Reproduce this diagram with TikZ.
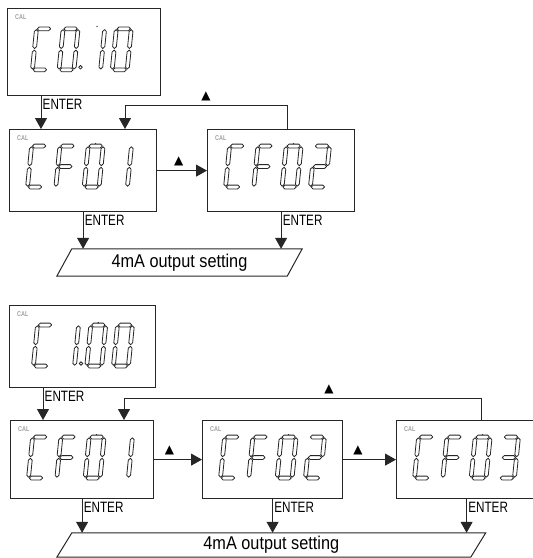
\documentclass[tikz,border=0pt]{standalone}
\usepackage{fontspec}
\usetikzlibrary{arrows.meta, positioning, calc}
\newfontfamily\condfont{Liberation Sans}[FakeStretch=0.78]
\newfontfamily\outfont{Liberation Sans}[FakeStretch=0.88]
\newfontfamily\symfont{DejaVu Sans}
\definecolor{LcdLine}{HTML}{262626}
\definecolor{LcdGray}{HTML}{A0A0A0}
\tikzset{
    % display boxes
    display/.style={
        rectangle,
        draw=LcdLine,
        fill=white,
        line width=1.2pt,
        inner sep=0pt,
        anchor=north west
    },
    seg/.style={
        draw=LcdLine,
        line width=0.8pt,
        line join=round
    },
    calmark/.style={
        font=\condfont\bfseries\fontsize{7}{7}\selectfont,
        text=LcdGray,
        inner sep=0pt,
        anchor=west
    },
    % labels
    keylabel/.style={
        font=\condfont\fontsize{15}{15}\selectfont,
        inner sep=0pt,
        anchor=north west
    },
    uplabel/.style={
        font=\symfont\fontsize{12}{12}\selectfont,
        inner sep=0pt,
        above=4pt
    },
    outbox/.style={
        font=\outfont\fontsize{18.5}{18.5}\selectfont,
        inner sep=0pt
    },
    outline/.style={
        draw=LcdLine,
        line width=1pt
    },
    % arrow styles
    arrow/.style={
        -{Triangle[width=12pt,length=11pt]},
        line width=1pt,
        draw=LcdLine
    }
}
% one segment, lying or standing
\newcommand{\hseg}[3]{\draw[seg] (#1,#3) -- ({#1+1.9},{#3-1.9}) -- ({#2-1.9},{#3-1.9}) -- (#2,#3) -- ({#2-1.9},{#3+1.9}) -- ({#1+1.9},{#3+1.9}) -- cycle;}
\newcommand{\vseg}[3]{\draw[seg] (#1,#2) -- ({#1+1.9},{#2+1.9}) -- ({#1+1.9},{#3-1.9}) -- (#1,#3) -- ({#1-1.9},{#3-1.9}) -- ({#1-1.9},{#2+1.9}) -- cycle;}
\newcommand{\segA}{\hseg{0.8}{14.2}{0}}
\newcommand{\segB}{\vseg{15}{0.8}{19.7}}
\newcommand{\segC}{\vseg{15}{21.3}{40.2}}
\newcommand{\segD}{\hseg{0.8}{14.2}{41}}
\newcommand{\segE}{\vseg{0}{21.3}{40.2}}
\newcommand{\segF}{\vseg{0}{0.8}{19.7}}
\newcommand{\segG}{\hseg{0.8}{14.2}{20.5}}
% digit: left x at the foot, top y, segments
\newcommand{\segdigit}[3]{%
    \begin{scope}[shift={({#1+4.1},#2)}, xslant=0.1]
        \foreach \s in {#3} {\csname seg\s\endcsname}
    \end{scope}}
\newcommand{\segpoint}[2]{\draw[seg] ({#1+21.5},{#2+38.5}) circle (1.8);}
\newcommand{\segdot}[2]{\fill[LcdLine] ({#1+11.5},{#2-2.4}) circle (0.7);}
\newcommand{\cfdigits}[1]{%
    \segdigit{18.5}{17}{A,D,E,F}
    \segdigit{46.8}{17}{A,E,F,G}
    \segdigit{75.1}{17}{A,B,C,D,E,F}
    \segdigit{103.4}{17}{#1}
    \segdot{75.1}{17}}

\begin{document}
\begin{tikzpicture}[x=1pt, y=-1pt]
    \useasboundingbox (0,0) rectangle (533,558);

    % first sequence
    \node[display, minimum width=153, minimum height=87] (c010) at (7,8) {};
    \node[display, minimum width=147, minimum height=82] (cf01a) at (9,129) {};
    \node[display, minimum width=147, minimum height=82] (cf02a) at (207,129) {};

    \node[calmark] (cal1) at ($(c010.north west)+(8,9)$) {CAL};
    \node[calmark] (cal2) at ($(cf01a.north west)+(8,9)$) {CAL};
    \node[calmark] (cal3) at ($(cf02a.north west)+(8,9)$) {CAL};

    \begin{scope}[shift={(c010.north west)}]
        \segdigit{25.4}{20.8}{A,D,E,F}
        \segdigit{52}{20.8}{A,B,C,D,E,F}
        \segpoint{52}{20.8}
        \segdigit{78.6}{20.8}{B,C}
        \segdot{78.6}{20.8}
        \segdigit{105.2}{20.8}{A,B,C,D,E,F}
    \end{scope}
    \begin{scope}[shift={(cf01a.north west)}]
        \cfdigits{B,C}
    \end{scope}
    \begin{scope}[shift={(cf02a.north west)}]
        \cfdigits{A,B,G,E,D}
    \end{scope}

    \coordinate (in1) at ($(cf01a.north west)+(32,0)$);
    \coordinate (in2) at ($(cf01a.north west)+(116,0)$);
    \coordinate (fb1) at ($(cf02a.north west)+(80,0)$);

    \draw[arrow] (c010.south -| in1) -- (in1);
    \node[keylabel] (k1) at ($(c010.south -| in1)+(1.5,3)$) {ENTER};
    \draw[arrow] (fb1) -- ++(0,-24) -| (in2) node[uplabel, pos=0.25] (u1) {▲};
    \draw[arrow] (cf01a) -- (cf02a) node[uplabel, pos=0.43] (u2) {▲};

    \node[outbox, minimum width=230, minimum height=27] (out1) at (179.5,262.5) {4mA output setting};
    \draw[outline] ($(out1.south west)+(-7.5,0)$) -- ($(out1.north west)+(7.5,0)$)
        -- ($(out1.north east)+(7.5,0)$) -- ($(out1.south east)+(-7.5,0)$) -- cycle;

    \draw[arrow] (cf01a.south) -- (cf01a.south |- out1.north);
    \node[keylabel] (k2) at ($(cf01a.south)+(1.5,3)$) {ENTER};
    \draw[arrow] (cf02a.south) -- (cf02a.south |- out1.north);
    \node[keylabel] (k3) at ($(cf02a.south)+(1.5,3)$) {ENTER};

    % second sequence
    \node[display, minimum width=146, minimum height=82] (c100) at (9,305) {};
    \node[display, minimum width=143, minimum height=78] (cf01b) at (10,420) {};
    \node[display, minimum width=140, minimum height=78] (cf02b) at (202,420) {};
    \node[display, minimum width=140, minimum height=78] (cf03b) at (396,420) {};

    \node[calmark] (cal4) at ($(c100.north west)+(8,9)$) {CAL};
    \node[calmark] (cal5) at ($(cf01b.north west)+(8,9)$) {CAL};
    \node[calmark] (cal6) at ($(cf02b.north west)+(8,9)$) {CAL};
    \node[calmark] (cal7) at ($(cf03b.north west)+(8,9)$) {CAL};

    \begin{scope}[shift={(c100.north west)}]
        \segdigit{24.4}{20}{A,D,E,F}
        \segdigit{50.5}{20}{B,C}
        \segpoint{50.5}{20}
        \segdigit{77.7}{20}{A,B,C,D,E,F}
        \segdot{77.7}{20}
        \segdigit{104.4}{20}{A,B,C,D,E,F}
    \end{scope}
    \begin{scope}[shift={(cf01b.north west)}]
        \cfdigits{B,C}
    \end{scope}
    \begin{scope}[shift={(cf02b.north west)}]
        \cfdigits{A,B,G,E,D}
    \end{scope}
    \begin{scope}[shift={(cf03b.north west)}]
        \cfdigits{A,B,G,C,D}
    \end{scope}

    \coordinate (in3) at ($(cf01b.north west)+(33,0)$);
    \coordinate (in4) at ($(cf01b.north west)+(114,0)$);
    \coordinate (fb2) at ($(cf03b.north west)+(85,0)$);

    \draw[arrow] (c100.south -| in3) -- (in3);
    \node[keylabel] (k4) at ($(c100.south -| in3)+(1.5,3)$) {ENTER};
    \draw[arrow] (fb2) -- ++(0,-22) -| (in4) node[uplabel, pos=0.213] (u3) {▲};
    \draw[arrow] (cf01b) -- (cf02b) node[uplabel, pos=0.32] (u4) {▲};
    \draw[arrow] (cf02b) -- (cf03b) node[uplabel, pos=0.28] (u5) {▲};

    \node[outbox, minimum width=413.5, minimum height=24] (out2) at (271.3,545) {4mA output setting};
    \draw[outline] ($(out2.south west)+(-7.5,0)$) -- ($(out2.north west)+(7.5,0)$)
        -- ($(out2.north east)+(7.5,0)$) -- ($(out2.south east)+(-7.5,0)$) -- cycle;

    \draw[arrow] (cf01b.south) -- (cf01b.south |- out2.north);
    \node[keylabel] (k5) at ($(cf01b.south)+(1.5,3)$) {ENTER};
    \draw[arrow] (cf02b.south) -- (cf02b.south |- out2.north);
    \node[keylabel] (k6) at ($(cf02b.south)+(1.5,3)$) {ENTER};
    \draw[arrow] (cf03b.south) -- (cf03b.south |- out2.north);
    \node[keylabel] (k7) at ($(cf03b.south)+(1.5,3)$) {ENTER};
\end{tikzpicture}
\end{document}
